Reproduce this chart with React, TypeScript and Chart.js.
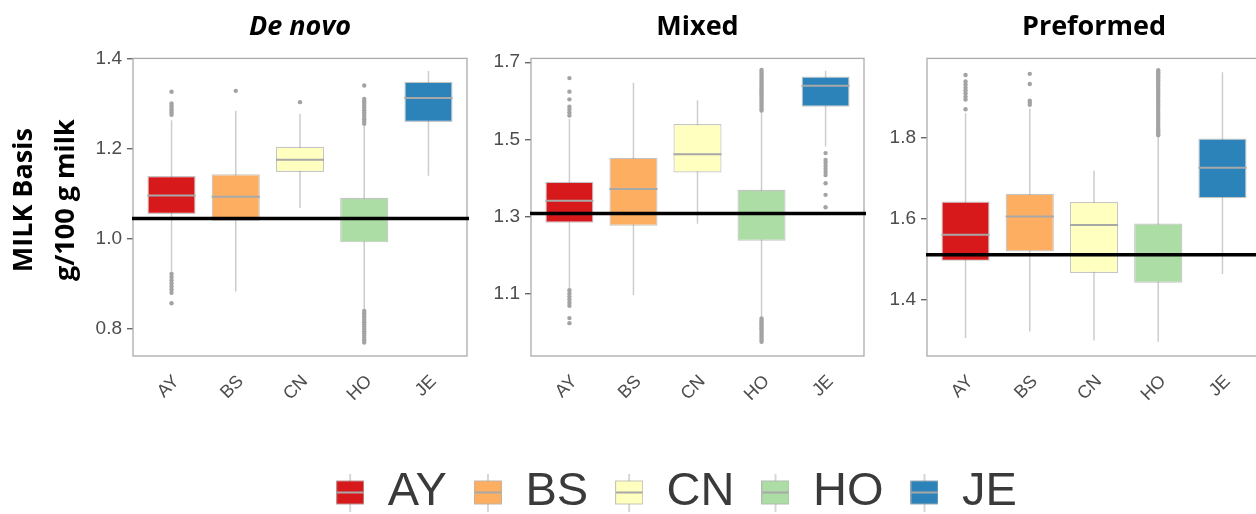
import React, { useEffect, useRef } from 'react';
import { Chart, registerables } from 'chart.js';

Chart.register(...registerables);

// ---------- data ----------
const breeds = ['AY', 'BS', 'CN', 'HO', 'JE'];
const breedColors = ['#d7191c', '#fdae61', '#ffffbf', '#abdda4', '#2b83ba'];

// De novo
const denovoLow = [0.927, 0.883, 1.068, 0.845, 1.14];
const denovoQ1 = [1.055, 1.04, 1.148, 0.992, 1.259];
const denovoMedian = [1.096, 1.093, 1.175, 1.045, 1.312];
const denovoQ3 = [1.139, 1.143, 1.204, 1.091, 1.348];
const denovoHigh = [1.263, 1.284, 1.277, 1.25, 1.372];
const denovoOutliers = [
  [1.326, 1.3, 1.295, 1.29, 1.285, 1.28, 1.275, 0.922, 0.915, 0.908, 0.901, 0.894, 0.887, 0.88, 0.857],
  [1.328],
  [1.303],
  [1.34, 1.31, 1.305, 1.3, 1.295, 1.29, 1.285, 1.28, 1.275, 1.27, 1.265, 1.26, 1.255,
    0.84, 0.835, 0.83, 0.825, 0.82, 0.815, 0.81, 0.805, 0.8, 0.795, 0.79, 0.785, 0.78, 0.775, 0.77],
  [],
];
const denovoMean = 1.045;
const denovoTicks = [0.8, 1.0, 1.2, 1.4];
const denovoRange = [0.74, 1.4];

// Mixed
const mixedLow = [1.115, 1.098, 1.282, 1.042, 1.482];
const mixedQ1 = [1.285, 1.277, 1.415, 1.238, 1.585];
const mixedMedian = [1.342, 1.372, 1.462, 1.308, 1.639];
const mixedQ3 = [1.391, 1.453, 1.54, 1.37, 1.663];
const mixedHigh = [1.553, 1.647, 1.602, 1.572, 1.678];
const mixedOutliers = [
  [1.659, 1.624, 1.604, 1.585, 1.578, 1.57, 1.562, 1.11, 1.102, 1.094, 1.086, 1.078, 1.07, 1.038, 1.025],
  [],
  [],
  [1.68, 1.675, 1.67, 1.665, 1.66, 1.655, 1.65, 1.645, 1.64, 1.635, 1.63, 1.625, 1.62, 1.615, 1.61,
    1.605, 1.6, 1.595, 1.59, 1.585, 1.58, 1.575,
    1.037, 1.032, 1.027, 1.022, 1.017, 1.012, 1.007, 1.002, 0.997, 0.992, 0.987, 0.982, 0.977],
  [1.465, 1.447, 1.44, 1.432, 1.424, 1.416, 1.408, 1.387, 1.357, 1.325],
];
const mixedMean = 1.309;
const mixedTicks = [1.1, 1.3, 1.5, 1.7];
const mixedRange = [0.94, 1.71];

// Preformed
const preLow = [1.306, 1.322, 1.3, 1.297, 1.464];
const preQ1 = [1.496, 1.519, 1.466, 1.442, 1.65];
const preMedian = [1.56, 1.605, 1.584, 1.511, 1.725];
const preQ3 = [1.642, 1.661, 1.641, 1.588, 1.797];
const preHigh = [1.859, 1.871, 1.718, 1.8, 1.96];
const preOutliers = [
  [1.953, 1.937, 1.93, 1.922, 1.915, 1.908, 1.9, 1.893, 1.869],
  [1.956, 1.931, 1.89, 1.885, 1.88],
  [],
  [1.965, 1.96, 1.955, 1.95, 1.945, 1.94, 1.935, 1.93, 1.925, 1.92, 1.915, 1.91, 1.905, 1.9, 1.895,
    1.89, 1.885, 1.88, 1.875, 1.87, 1.865, 1.86, 1.855, 1.85, 1.845, 1.84, 1.835, 1.83, 1.825, 1.82,
    1.815, 1.81, 1.805],
  [],
];
const preMean = 1.511;
const preTicks = [1.4, 1.6, 1.8];
const preRange = [1.262, 1.994];

const yAxisTitle = ['  MILK Basis', '  g/100 g milk'];

type Spec = {
  title: string;
  italic: boolean;
  low: number[];
  q1: number[];
  median: number[];
  q3: number[];
  high: number[];
  outliers: number[][];
  mean: number;
  ticks: number[];
  range: number[];
  yTitle?: string[];
};

const specs: Spec[] = [
  { title: 'De novo', italic: true, low: denovoLow, q1: denovoQ1, median: denovoMedian, q3: denovoQ3, high: denovoHigh, outliers: denovoOutliers, mean: denovoMean, ticks: denovoTicks, range: denovoRange, yTitle: yAxisTitle },
  { title: 'Mixed', italic: false, low: mixedLow, q1: mixedQ1, median: mixedMedian, q3: mixedQ3, high: mixedHigh, outliers: mixedOutliers, mean: mixedMean, ticks: mixedTicks, range: mixedRange },
  { title: 'Preformed', italic: false, low: preLow, q1: preQ1, median: preMedian, q3: preQ3, high: preHigh, outliers: preOutliers, mean: preMean, ticks: preTicks, range: preRange },
];

// ---------- layout / style ----------
type Layout = { left: number; top: number; width: number; height: number; yAxisWidth: number; padRight: number; xAxisHeight: number };
const layouts: Layout[] = [
  { left: 0, top: 0, width: 480, height: 430, yAxisWidth: 133, padRight: 13, xAxisHeight: 74 },
  { left: 470, top: 0, width: 410, height: 430, yAxisWidth: 61, padRight: 16, xAxisHeight: 74 },
  { left: 870, top: 0, width: 410, height: 430, yAxisWidth: 57, padRight: 19, xAxisHeight: 74 },
];

const BOX_HALF = 0.375;
const TICK_COLOR = '#4d4d4d';
const BOX_BORDER = 'rgba(150,150,150,0.55)';
const WHISKER_COLOR = '#cdcdcd';
const MEDIAN_COLOR = '#a8a8a8';
const OUTLIER_COLOR = '#a3a3a3';

const framePlugin = {
  id: 'panelFrame',
  beforeDatasetsDraw(chart: any) {
    const { ctx, chartArea: a } = chart;
    ctx.save();
    ctx.strokeStyle = '#ababab';
    ctx.lineWidth = 1.3;
    ctx.strokeRect(a.left, a.top, a.right - a.left, a.bottom - a.top);
    ctx.restore();
  },
};

const meanLinePlugin = {
  id: 'meanLine',
  afterDatasetsDraw(chart: any, _args: any, opts: any) {
    const { ctx, chartArea: a } = chart;
    const y = chart.scales.y.getPixelForValue(opts.value);
    ctx.save();
    ctx.strokeStyle = '#000';
    ctx.lineWidth = 3.5;
    ctx.beginPath();
    ctx.moveTo(a.left - 1, y);
    ctx.lineTo(a.right + 2, y);
    ctx.stroke();
    ctx.restore();
  },
};

function buildConfig(spec: Spec, layout: Layout): any {
  const idx = breeds.map((_, i) => i + 1);
  return {
    type: 'bar',
    data: {
      datasets: [
        {
          type: 'line',
          label: 'whiskers',
          data: idx.flatMap((x, i) => [{ x, y: spec.low[i] }, { x, y: spec.high[i] }, { x, y: null }]),
          borderColor: WHISKER_COLOR,
          borderWidth: 1.5,
          pointRadius: 0,
          spanGaps: false,
          order: 4,
        },
        {
          type: 'bar',
          label: 'box',
          data: idx.map((x, i) => ({ x, y: [spec.q1[i], spec.q3[i]] })),
          backgroundColor: breedColors,
          borderColor: BOX_BORDER,
          borderWidth: 1.2,
          borderSkipped: false,
          barPercentage: 0.75,
          categoryPercentage: 1,
          order: 3,
        },
        {
          type: 'line',
          label: 'median',
          data: idx.flatMap((x, i) => [
            { x: x - BOX_HALF, y: spec.median[i] },
            { x: x + BOX_HALF, y: spec.median[i] },
            { x: x + BOX_HALF, y: null },
          ]),
          borderColor: MEDIAN_COLOR,
          borderWidth: 2,
          pointRadius: 0,
          spanGaps: false,
          order: 2,
        },
        {
          type: 'scatter',
          label: 'outliers',
          data: idx.flatMap((x, i) => spec.outliers[i].map((y) => ({ x, y }))),
          pointRadius: 2.2,
          backgroundColor: OUTLIER_COLOR,
          borderWidth: 0,
          order: 1,
        },
      ],
    },
    options: {
      responsive: false,
      animation: false,
      events: [],
      layout: { padding: { left: 0, right: layout.padRight, top: 0, bottom: 0 } },
      scales: {
        x: {
          type: 'linear',
          min: 0.4,
          max: 5.6,
          offset: false,
          afterBuildTicks: (s: any) => {
            s.ticks = idx.map((value) => ({ value }));
          },
          ticks: {
            autoSkip: false,
            minRotation: 45,
            maxRotation: 45,
            padding: 15,
            labelOffset: 5,
            color: TICK_COLOR,
            font: { family: 'Liberation Sans', size: 18 },
            callback: (_v: any, i: number) => breeds[i],
          },
          grid: { display: false, drawTicks: false, offset: false },
          border: { display: false },
          afterFit: (s: any) => {
            s.height = layout.xAxisHeight;
          },
        },
        y: {
          type: 'linear',
          min: spec.range[0],
          max: spec.range[1],
          afterBuildTicks: (s: any) => {
            s.ticks = spec.ticks.map((value) => ({ value }));
          },
          ticks: {
            padding: 5,
            color: TICK_COLOR,
            font: { family: 'Liberation Sans', size: 19 },
            callback: (v: any) => Number(v).toFixed(1),
          },
          grid: { drawOnChartArea: false, drawTicks: true, tickLength: 6, color: '#666', lineWidth: 1.4 },
          border: { display: false },
          title: spec.yTitle
            ? {
                display: true,
                text: spec.yTitle,
                color: '#000',
                font: { family: 'Open Sans', size: 27, weight: 'bold', lineHeight: '42px' },
                padding: { top: 3, bottom: 0 },
              }
            : { display: false },
          afterFit: (s: any) => {
            s.width = layout.yAxisWidth;
          },
        },
      },
      plugins: {
        legend: { display: false },
        tooltip: { enabled: false },
        title: {
          display: true,
          text: spec.title,
          fullSize: false,
          color: '#000',
          font: { family: 'Open Sans', size: 27, weight: 'bold', style: spec.italic ? 'italic' : 'normal' },
          padding: { top: 11, bottom: 15 },
        },
        meanLine: { value: spec.mean },
      },
    },
    plugins: [framePlugin, meanLinePlugin],
  };
}

function Panel({ spec, layout }: { spec: Spec; layout: Layout }) {
  const ref = useRef<HTMLCanvasElement>(null);
  useEffect(() => {
    const chart = new Chart(ref.current as HTMLCanvasElement, buildConfig(spec, layout));
    return () => chart.destroy();
  }, []);
  return (
    <canvas
      ref={ref}
      width={layout.width}
      height={layout.height}
      style={{ position: 'absolute', left: layout.left, top: layout.top, display: 'block' }}
    />
  );
}

function makeIcon(color: string): HTMLCanvasElement {
  const c = document.createElement('canvas');
  c.width = 28;
  c.height = 38;
  const g = c.getContext('2d') as CanvasRenderingContext2D;
  g.strokeStyle = '#c8c8c8';
  g.lineWidth = 1.5;
  g.beginPath();
  g.moveTo(14, 0);
  g.lineTo(14, 38);
  g.stroke();
  g.fillStyle = color;
  g.fillRect(0.5, 7.5, 27, 23);
  g.strokeStyle = BOX_BORDER;
  g.lineWidth = 1;
  g.strokeRect(0.5, 7.5, 27, 23);
  g.strokeStyle = MEDIAN_COLOR;
  g.lineWidth = 2;
  g.beginPath();
  g.moveTo(1, 19);
  g.lineTo(27, 19);
  g.stroke();
  return c;
}

const legendLayout = { left: 300, top: 442, width: 753, height: 130 };

function LegendChart() {
  const ref = useRef<HTMLCanvasElement>(null);
  useEffect(() => {
    const icons = breedColors.map(makeIcon);
    const chart = new Chart(ref.current as HTMLCanvasElement, {
      type: 'bar',
      data: { labels: [], datasets: breeds.map((b) => ({ label: b, data: [] })) },
      options: {
        responsive: false,
        animation: false,
        events: [],
        scales: { x: { display: false }, y: { display: false } },
        plugins: {
          tooltip: { enabled: false },
          legend: {
            display: true,
            position: 'top',
            align: 'center',
            maxHeight: 300,
            labels: {
              usePointStyle: true,
              boxWidth: 28,
              padding: 27,
              color: '#3a3a3a',
              font: { family: 'Liberation Sans', size: 47 },
              generateLabels: () =>
                breeds.map((b, i) => ({
                  text: b,
                  pointStyle: icons[i],
                  fillStyle: breedColors[i],
                  strokeStyle: 'rgba(0,0,0,0)',
                  lineWidth: 0,
                  hidden: false,
                  datasetIndex: i,
                  fontColor: '#3a3a3a',
                })),
            },
          },
        },
      } as any,
    } as any);
    return () => chart.destroy();
  }, []);
  return (
    <canvas
      ref={ref}
      width={legendLayout.width}
      height={legendLayout.height}
      style={{ position: 'absolute', left: legendLayout.left, top: legendLayout.top, display: 'block' }}
    />
  );
}

export default function App() {
  return (
    <div style={{ position: 'fixed', left: 0, top: 0, width: 1256, height: 514, overflow: 'hidden', background: '#fff' }}>
      {specs.map((s, i) => (
        <Panel key={s.title} spec={s} layout={layouts[i]} />
      ))}
      <LegendChart />
    </div>
  );
}
